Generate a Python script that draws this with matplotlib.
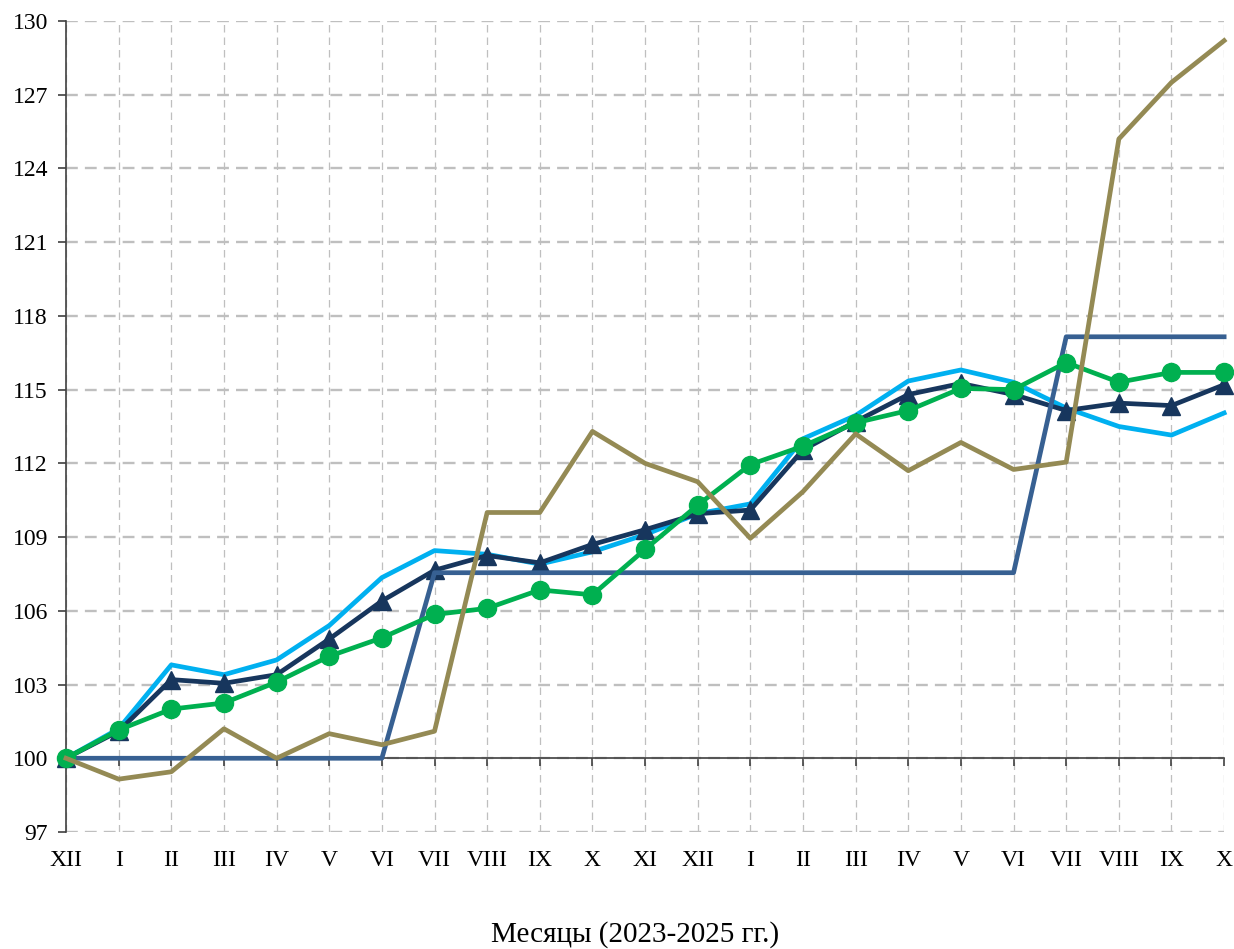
import numpy as np
import matplotlib.pyplot as plt

# Month labels (Dec 2023 - Oct 2025)
months = ["XII", "I", "II", "III", "IV", "V", "VI", "VII", "VIII", "IX", "X", "XI",
          "XII", "I", "II", "III", "IV", "V", "VI", "VII", "VIII", "IX", "X"]

# Series
light_blue = [100, 101.2, 103.8, 103.4, 104.0, 105.4, 107.35, 108.45, 108.3, 107.9, 108.4, 109.1,
              109.95, 110.35, 113.0, 113.95, 115.35, 115.8, 115.3, 114.25, 113.5, 113.15, 114.05]
navy_tri = [100, 101.1, 103.2, 103.05, 103.4, 104.85, 106.4, 107.65, 108.25, 107.95, 108.7, 109.3,
            109.95, 110.1, 112.55, 113.7, 114.8, 115.25, 114.8, 114.15, 114.45, 114.35, 115.2]
green_circ = [100, 101.15, 102.0, 102.25, 103.1, 104.15, 104.9, 105.85, 106.1, 106.85, 106.65, 108.5,
              110.3, 111.95, 112.7, 113.65, 114.15, 115.05, 115.0, 116.1, 115.3, 115.7, 115.7]
olive = [100, 99.15, 99.45, 101.2, 100.0, 101.0, 100.55, 101.1, 110.0, 110.0, 113.3, 112.0,
         111.25, 108.95, 110.85, 113.2, 111.7, 112.85, 111.75, 112.05, 125.2, 127.5, 129.2]
step_line = [100, 100, 100, 100, 100, 100, 100, 107.55, 107.55, 107.55, 107.55, 107.55,
             107.55, 107.55, 107.55, 107.55, 107.55, 107.55, 107.55, 117.15, 117.15, 117.15, 117.15]

x = np.arange(len(months))

plt.rcParams["font.family"] = ["Liberation Serif", "DejaVu Serif"]
fig = plt.figure(figsize=(12.34, 9.49), dpi=100)
ax = fig.add_axes([0.0535, 0.1233, 0.9385, 0.8546])

lw = 3.4
ax.plot(x, light_blue, color="#00B0F0", linewidth=lw, zorder=3, clip_on=False)
ax.plot(x, navy_tri, color="#17365D", linewidth=lw, marker="^", markersize=13, zorder=4, clip_on=False)
ax.plot(x, step_line, color="#376092", linewidth=lw, zorder=5, clip_on=False)
ax.plot(x, green_circ, color="#00B050", linewidth=lw, marker="o", markersize=13, zorder=6, clip_on=False)
ax.plot(x, olive, color="#948A54", linewidth=lw, zorder=7, clip_on=False)

ax.set_xlim(0, 22)
ax.set_ylim(97, 130)
ax.set_yticks(np.arange(97, 131, 3))

# grid: horizontal long dashes, vertical thin short dashes
ax.grid(axis="y", color="#BFBFBF", linewidth=1.7, linestyle=(0, (5, 3)), zorder=0)
ax.grid(axis="x", color="#BFBFBF", linewidth=0.9, linestyle=(0, (6, 4)), zorder=0)
ax.set_xticks(x)

for s in ["top", "right"]:
    ax.spines[s].set_visible(False)
ax.spines["left"].set_color("#404040")
ax.spines["left"].set_linewidth(1.2)
ax.spines["bottom"].set_position(("data", 100))
ax.spines["bottom"].set_color("#404040")
ax.spines["bottom"].set_linewidth(1.2)
ax.spines["bottom"].set_zorder(2)

ax.tick_params(axis="x", labelbottom=False, direction="out", length=6, color="#404040", width=1.2)
ax.tick_params(axis="y", direction="out", length=6, color="#404040", width=1.2,
               labelsize=17, pad=7)

sec = ax.secondary_xaxis(0)
sec.set_xticks(x, labels=months)
sec.spines["bottom"].set_visible(False)
sec.tick_params(length=0, labelsize=17, pad=13)

fig.text(0.515, 0.015, "Месяцы (2023-2025 гг.)", ha="center", va="center", fontsize=21)

fig.savefig("out.png", dpi=100)
